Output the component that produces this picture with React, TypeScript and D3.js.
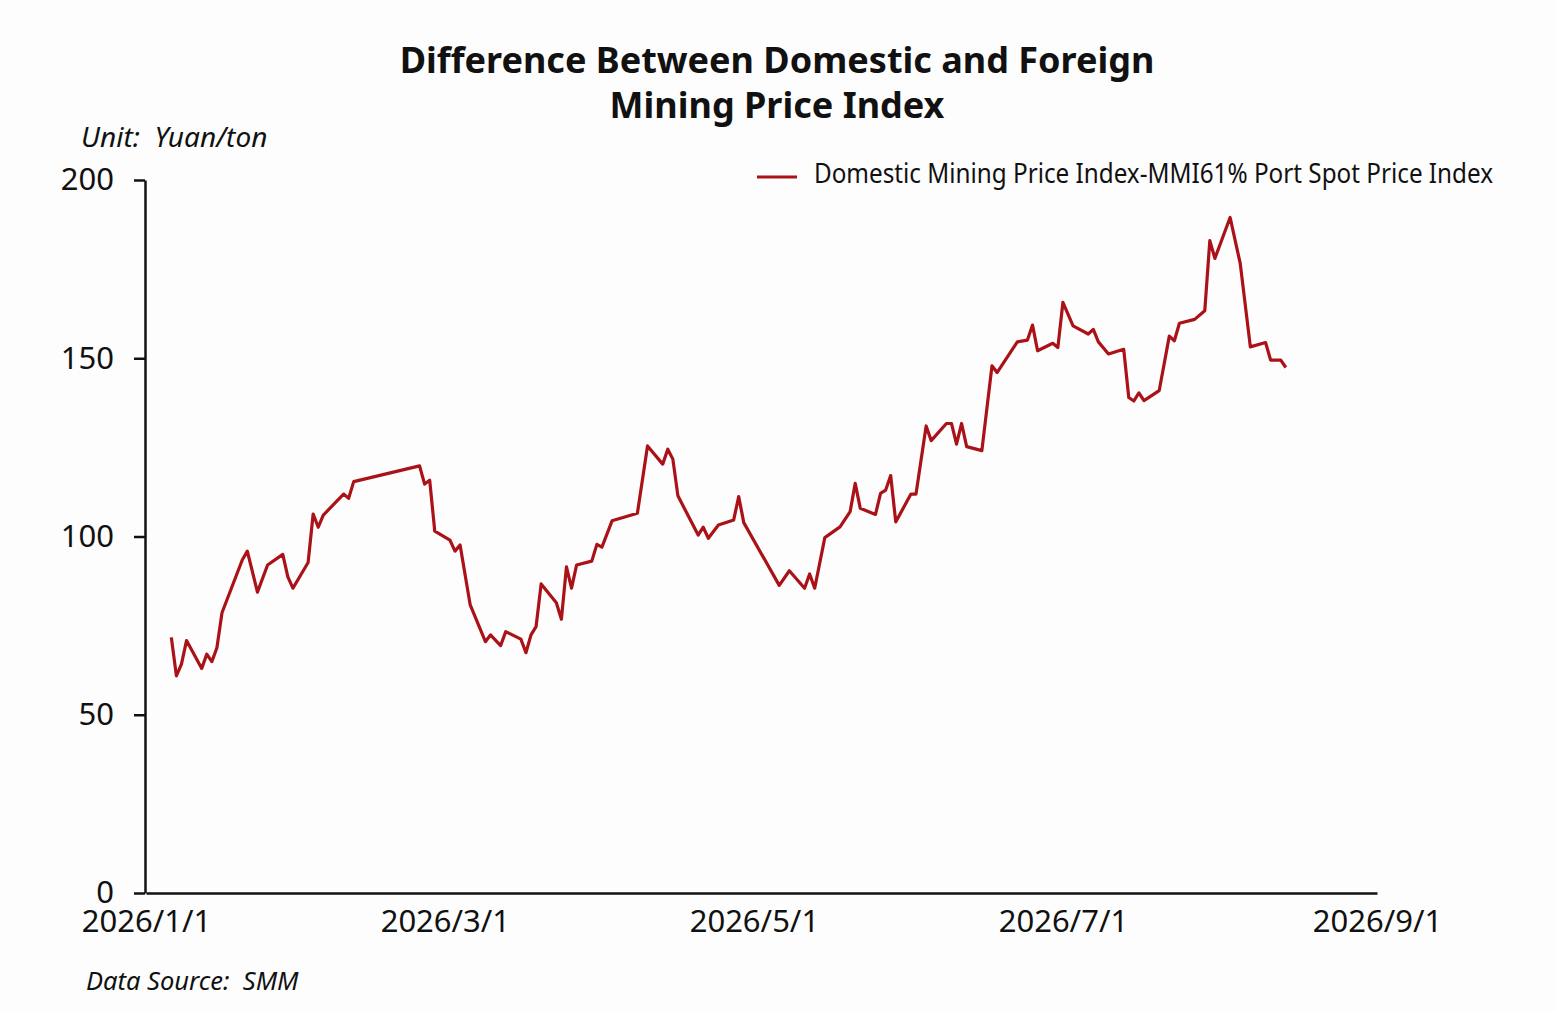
import { useEffect, useRef } from 'react';
import * as d3 from 'd3';

const dates = [
  '2026-01-06', '2026-01-07', '2026-01-08', '2026-01-09', '2026-01-12', '2026-01-13', '2026-01-14', '2026-01-15',
  '2026-01-16', '2026-01-20', '2026-01-21', '2026-01-23', '2026-01-25', '2026-01-28', '2026-01-29', '2026-01-30',
  '2026-02-02', '2026-02-03', '2026-02-04', '2026-02-05', '2026-02-09', '2026-02-10', '2026-02-11', '2026-02-24',
  '2026-02-25', '2026-02-26', '2026-02-27', '2026-03-02', '2026-03-03', '2026-03-04', '2026-03-06', '2026-03-09',
  '2026-03-10', '2026-03-12', '2026-03-13', '2026-03-16', '2026-03-17', '2026-03-18', '2026-03-19', '2026-03-20',
  '2026-03-23', '2026-03-24', '2026-03-25', '2026-03-26', '2026-03-27', '2026-03-30', '2026-03-31', '2026-04-01',
  '2026-04-03', '2026-04-08', '2026-04-10', '2026-04-13', '2026-04-14', '2026-04-15', '2026-04-16', '2026-04-20',
  '2026-04-21', '2026-04-22', '2026-04-24', '2026-04-27', '2026-04-28', '2026-04-29', '2026-05-06', '2026-05-08',
  '2026-05-11', '2026-05-12', '2026-05-13', '2026-05-15', '2026-05-18', '2026-05-20', '2026-05-21', '2026-05-22',
  '2026-05-25', '2026-05-26', '2026-05-27', '2026-05-28', '2026-05-29', '2026-06-01', '2026-06-02', '2026-06-04',
  '2026-06-05', '2026-06-08', '2026-06-09', '2026-06-10', '2026-06-11', '2026-06-12', '2026-06-15', '2026-06-17',
  '2026-06-18', '2026-06-22', '2026-06-24', '2026-06-25', '2026-06-26', '2026-06-29', '2026-06-30', '2026-07-01',
  '2026-07-03', '2026-07-06', '2026-07-07', '2026-07-08', '2026-07-10', '2026-07-13', '2026-07-14', '2026-07-15',
  '2026-07-16', '2026-07-17', '2026-07-20', '2026-07-22', '2026-07-23', '2026-07-24', '2026-07-27', '2026-07-29',
  '2026-07-30', '2026-07-31', '2026-08-03', '2026-08-05', '2026-08-07', '2026-08-10', '2026-08-11', '2026-08-13',
  '2026-08-14',
];

const values = [
  71.7, 60.9, 64.2, 70.8, 63.0, 67.0, 64.9, 68.8,
  78.6, 93.4, 95.9, 84.4, 92.0, 95.0, 88.7, 85.5,
  92.7, 106.3, 102.6, 106.0, 111.9, 110.7, 115.4, 119.8,
  114.7, 115.8, 101.5, 99.0, 95.9, 97.6, 80.8, 70.5,
  72.4, 69.4, 73.3, 71.2, 67.4, 72.4, 74.7, 86.7,
  81.4, 76.8, 91.5, 85.5, 92.0, 93.1, 97.8, 97.0,
  104.4, 106.5, 125.4, 120.3, 124.5, 121.7, 111.4, 100.4,
  102.6, 99.5, 103.2, 104.6, 111.2, 103.9, 86.3, 90.4,
  85.5, 89.5, 85.5, 99.7, 102.7, 107.0, 114.9, 107.9,
  106.2, 112.1, 113.0, 117.1, 104.1, 111.9, 111.9, 131.0,
  126.9, 131.7, 131.7, 125.9, 131.7, 125.2, 124.1, 147.9,
  146.0, 154.6, 155.1, 159.3, 152.1, 154.2, 153.0, 165.7,
  159.1, 156.8, 158.1, 154.6, 151.2, 152.5, 139.0, 138.0,
  140.3, 138.1, 140.9, 156.2, 154.9, 159.8, 160.9, 163.3,
  183.0, 178.0, 189.5, 176.6, 153.2, 154.4, 149.5, 149.5,
  147.4,
];

const yTicks = [0, 50, 100, 150, 200];
const xTicks = ['2026-01-01', '2026-03-01', '2026-05-01', '2026-07-01', '2026-09-01'];
const titleLines = ['Difference Between Domestic and Foreign', 'Mining Price Index'];
const seriesName = 'Domestic Mining Price Index-MMI61% Port Spot Price Index';
const unitLabel = 'Unit:  Yuan/ton';
const sourceLabel = 'Data Source:  SMM';

const WIDTH = 1556;
const HEIGHT = 1011;
const LINE_COLOR = '#aa1218';
const FONT = "'Noto Sans', 'Open Sans', sans-serif";

const App = () => {
  const svgRef = useRef<SVGSVGElement>(null);

  useEffect(() => {
    document.body.style.margin = '0';
    if (!svgRef.current) return;
    const svg = d3.select(svgRef.current);
    svg.selectAll('*').remove();

    const parse = d3.timeParse('%Y-%m-%d');
    const data = dates.map((d, i) => ({ date: parse(d) as Date, value: values[i] }));

    const x = d3.scaleTime()
      .domain([parse(xTicks[0]) as Date, parse(xTicks[xTicks.length - 1]) as Date])
      .range([146, 1377]);
    const y = d3.scaleLinear().domain([0, 200]).range([893, 180]);

    svg.append('rect').attr('width', WIDTH).attr('height', HEIGHT).attr('fill', '#fdfdfd');

    // title
    svg.append('g')
      .selectAll('text')
      .data(titleLines)
      .enter()
      .append('text')
      .attr('x', 777)
      .attr('y', (_, i) => 73 + i * 45)
      .attr('text-anchor', 'middle')
      .attr('font-family', FONT)
      .attr('font-weight', 700)
      .attr('font-size', 36)
      .attr('fill', '#111')
      .text(d => d);

    svg.append('text')
      .attr('x', 81)
      .attr('y', 147)
      .attr('font-family', FONT)
      .attr('font-style', 'italic')
      .attr('font-size', 28)
      .attr('fill', '#111')
      .style('white-space', 'pre')
      .text(unitLabel);

    // legend
    const legend = svg.append('g');
    legend.append('line')
      .attr('x1', 757).attr('x2', 797)
      .attr('y1', 177).attr('y2', 177)
      .attr('stroke', LINE_COLOR)
      .attr('stroke-width', 3.2);
    legend.append('text')
      .attr('x', 814)
      .attr('y', 183)
      .attr('font-family', FONT)
      .attr('font-size', 26.5)
      .attr('fill', '#111')
      .attr('textLength', 679)
      .attr('lengthAdjust', 'spacingAndGlyphs')
      .text(seriesName);

    // y axis
    const yAxis = svg.append('g')
      .attr('transform', 'translate(145,0)')
      .call(d3.axisLeft(y).tickValues(yTicks).tickSize(11).tickSizeOuter(0).tickPadding(20));
    yAxis.select('.domain').attr('stroke', '#111').attr('stroke-width', 2.5);
    yAxis.selectAll('.tick line').attr('stroke', '#111').attr('stroke-width', 2.5);
    yAxis.selectAll('.tick text')
      .attr('font-family', FONT)
      .attr('font-size', 31)
      .attr('fill', '#111');

    // x axis
    const xAxis = svg.append('g')
      .attr('transform', `translate(0,${y(0)})`)
      .call(d3.axisBottom(x)
        .tickValues(xTicks.map(t => parse(t) as Date))
        .tickSize(0)
        .tickSizeOuter(0)
        .tickPadding(17)
        .tickFormat(d => d3.timeFormat('%Y/%-m/%-d')(d as Date)));
    xAxis.select('.domain').attr('stroke', '#111').attr('stroke-width', 2.5);
    xAxis.selectAll('.tick text')
      .attr('font-family', FONT)
      .attr('font-size', 31)
      .attr('fill', '#111');

    // series
    const line = d3.line<{ date: Date; value: number }>()
      .x(d => x(d.date))
      .y(d => y(d.value));

    svg.append('path')
      .datum(data)
      .attr('d', line)
      .attr('fill', 'none')
      .attr('stroke', LINE_COLOR)
      .attr('stroke-width', 3.2)
      .attr('stroke-linejoin', 'round');

    svg.append('text')
      .attr('x', 86)
      .attr('y', 990)
      .attr('font-family', FONT)
      .attr('font-style', 'italic')
      .attr('font-size', 25.5)
      .attr('fill', '#111')
      .style('white-space', 'pre')
      .text(sourceLabel);
  }, []);

  return <svg ref={svgRef} width={WIDTH} height={HEIGHT} style={{ display: 'block' }}></svg>;
};

export default App;
